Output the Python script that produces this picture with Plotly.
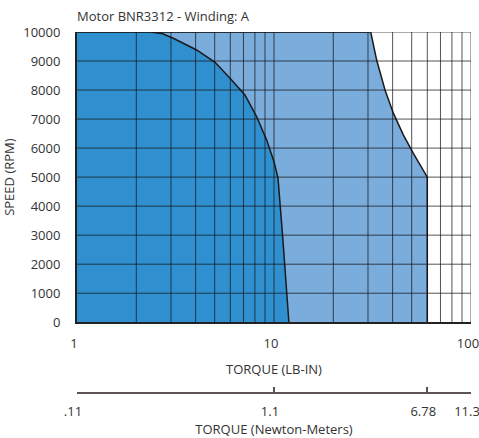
import plotly.graph_objects as go

# Continuous duty curve (torque lb-in, speed rpm)
cont_torque = [1, 2.35, 2.7, 3.08, 4.05, 5.02, 5.98, 7.12, 8.17, 9.18, 10.0, 10.48, 11.1, 11.9]
cont_speed = [10000, 10000, 9950, 9783, 9380, 8955, 8403, 7828, 7080, 6276, 5528, 4966, 2828, 0]

# Intermittent duty curve
int_torque = [1, 30.97, 33.2, 36.6, 40.4, 45.4, 50.97, 60, 60]
int_speed = [10000, 10000, 9034, 8000, 7195, 6448, 5817, 5000, 0]

x_ticks = [1, 10, 100]
x_ticklabels = ["1", "10", "100"]
y_ticks = list(range(0, 10001, 1000))
y_ticklabels = [str(v) for v in y_ticks]
nm_ticks = [1, 10, 60, 100]
nm_ticklabels = [".11", "1.1", "6.78", "11.3"]
x_grid = [2, 3, 4, 5, 6, 7, 8, 9, 10, 20, 30, 40, 50, 60, 70, 80, 90, 100]
y_grid = list(range(1000, 10001, 1000))

DARK = "#3090cf"
LIGHT = "#7aacdc"
TXT = "#333333"
FONT = "Open Sans"
FS = 13

fig = go.Figure()
fig.add_trace(go.Scatter(x=int_torque, y=int_speed, mode="lines", fill="tozeroy",
                         fillcolor=LIGHT, line=dict(color="#1a1a1a", width=1.5),
                         hoverinfo="skip", showlegend=False))
fig.add_trace(go.Scatter(x=cont_torque, y=cont_speed, mode="lines", fill="tozeroy",
                         fillcolor=DARK, line=dict(color="#1a1a1a", width=1.5),
                         hoverinfo="skip", showlegend=False))
# secondary (Newton-meter) axis carrier
fig.add_trace(go.Scatter(x=[], y=[], xaxis="x2", yaxis="y", mode="lines",
                         hoverinfo="skip", showlegend=False))

shapes = []
for gx in x_grid:
    shapes.append(dict(type="line", xref="x", yref="y domain", x0=gx, x1=gx, y0=0, y1=1,
                       line=dict(color="rgba(20,20,20,0.72)", width=1), layer="above"))
for gy in y_grid:
    shapes.append(dict(type="line", xref="x domain", yref="y", x0=0, x1=1, y0=gy, y1=gy,
                       line=dict(color="rgba(20,20,20,0.72)", width=1), layer="above"))

PLOT_T, PLOT_B, AX2 = 32, 322, 392.7
DOM0 = (AX2 - PLOT_B) / (AX2 - PLOT_T)

fig.update_layout(
    width=479, height=438,
    margin=dict(l=77, r=8, t=PLOT_T, b=438 - AX2, autoexpand=False),
    paper_bgcolor="white", plot_bgcolor="white",
    font=dict(family=FONT, size=FS, color=TXT),
    shapes=shapes,
    hovermode=False,
    title=dict(text="Motor BNR3312 - Winding: A", xref="paper", x=0, xanchor="left",
               yref="container", y=1 - 16 / 438, yanchor="middle",
               font=dict(family=FONT, size=FS, color=TXT)),
    xaxis=dict(type="log", range=[0, 2], tickvals=x_ticks, ticktext=x_ticklabels,
               showgrid=False, zeroline=False, showline=True, linecolor="#222222", linewidth=2,
               ticks="", ticklabelstandoff=8, ticklabelshift=-3, ticklabeloverflow="allow",
               anchor="y", automargin=False,
               title=dict(text="TORQUE (LB-IN)", standoff=14, font=dict(size=FS))),
    yaxis=dict(range=[0, 10000], tickvals=y_ticks, ticktext=y_ticklabels, domain=[DOM0, 1],
               showgrid=False, zeroline=False, showline=True, linecolor="#222222", linewidth=2,
               ticks="", ticklabelstandoff=12, automargin=False,
               title=dict(text="SPEED (RPM)", standoff=10, font=dict(size=FS))),
    xaxis2=dict(type="log", range=[0, 2], tickvals=nm_ticks, ticktext=nm_ticklabels,
                overlaying="x", anchor="free", position=0, side="bottom", automargin=False,
                showgrid=False, zeroline=False, showline=True, linecolor="#5d5353", linewidth=1.5,
                ticks="inside", ticklen=5, tickcolor="#5d5353", tickwidth=1.5,
                ticklabelstandoff=7, ticklabelshift=-4, ticklabeloverflow="allow",
                title=dict(text="TORQUE (Newton-Meters)", standoff=4, font=dict(size=FS))),
)

fig.write_html(
    "out.html",
    config={"displayModeBar": False},
    post_script="document.body.style.margin='0';document.body.style.overflow='hidden';",
)
